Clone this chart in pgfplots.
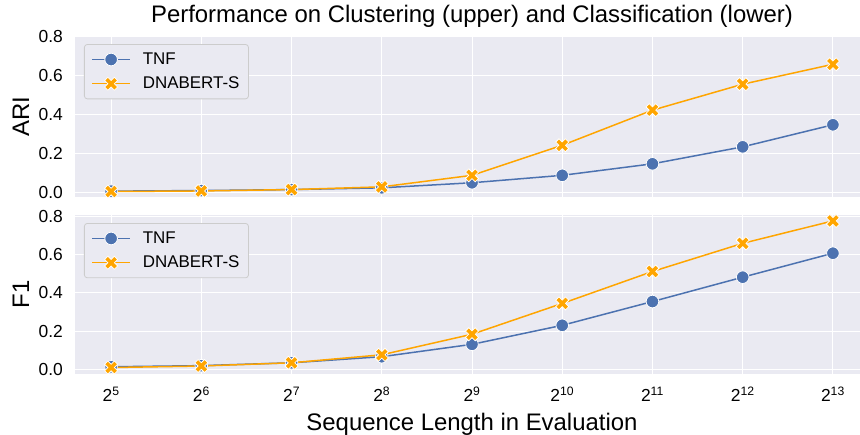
\documentclass[border=0pt]{standalone}
\usepackage{fontspec}
\setmainfont{Liberation Sans}
\usepackage{pgfplots}
\pgfplotsset{compat=1.18}
\definecolor{sbbg}{HTML}{EAEAF2}
\definecolor{tnf}{HTML}{4C72B0}
\definecolor{dna}{HTML}{FFA500}
\definecolor{lgedge}{HTML}{CCCCCC}

\pgfdeclareplotmark{filledX}{%
  \pgftransformrotate{45}%
  \pgfpathmoveto{\pgfpoint{0.34\pgfplotmarksize}{\pgfplotmarksize}}%
  \pgfpathlineto{\pgfpoint{0.34\pgfplotmarksize}{0.34\pgfplotmarksize}}%
  \pgfpathlineto{\pgfpoint{\pgfplotmarksize}{0.34\pgfplotmarksize}}%
  \pgfpathlineto{\pgfpoint{\pgfplotmarksize}{-0.34\pgfplotmarksize}}%
  \pgfpathlineto{\pgfpoint{0.34\pgfplotmarksize}{-0.34\pgfplotmarksize}}%
  \pgfpathlineto{\pgfpoint{0.34\pgfplotmarksize}{-\pgfplotmarksize}}%
  \pgfpathlineto{\pgfpoint{-0.34\pgfplotmarksize}{-\pgfplotmarksize}}%
  \pgfpathlineto{\pgfpoint{-0.34\pgfplotmarksize}{-0.34\pgfplotmarksize}}%
  \pgfpathlineto{\pgfpoint{-\pgfplotmarksize}{-0.34\pgfplotmarksize}}%
  \pgfpathlineto{\pgfpoint{-\pgfplotmarksize}{0.34\pgfplotmarksize}}%
  \pgfpathlineto{\pgfpoint{-0.34\pgfplotmarksize}{0.34\pgfplotmarksize}}%
  \pgfpathlineto{\pgfpoint{-0.34\pgfplotmarksize}{\pgfplotmarksize}}%
  \pgfpathclose
  \pgfusepathqfillstroke
}

\pgfplotsset{
  sbaxis/.style={
    scale only axis, width=794bp,
    xmin=4.6, xmax=13.4,
    axis background/.style={fill=sbbg},
    axis line style={draw=none},
    major tick length=0pt,
    grid=major, grid style={white, line width=1bp},
    xtick={5,6,7,8,9,10,11,12,13},
    ytick={0,0.2,0.4,0.6,0.8},
    /pgf/number format/assume math mode=true,
    yticklabel style={font=\fontsize{17.5}{20}\selectfont, inner sep=0pt, xshift=-12bp,
      /pgf/number format/fixed, /pgf/number format/fixed zerofill, /pgf/number format/precision=1},
    xticklabel style={font=\fontsize{17.5}{20}\selectfont, inner sep=0pt, anchor=north, yshift=-13bp},
    every axis y label/.style={at={(axis description cs:-0.068,0.5)}, rotate=90, anchor=center,
      font=\fontsize{24}{28}\selectfont},
    legend cell align=left,
    legend style={at={(axis description cs:0.0113,0.95)}, anchor=north west,
      font=\fontsize{17}{20}\selectfont, draw=lgedge, fill=sbbg, rounded corners=3bp,
      line width=0.8bp, inner xsep=7bp, inner ysep=6.5bp, row sep=7bp,
      /tikz/every odd column/.append style={column sep=10bp}},
    legend image code/.code={\draw[mark repeat=2,mark phase=2] plot coordinates {(0bp,0bp)(19bp,0bp)(38bp,0bp)};},
  },
  tnfplot/.style={color=tnf, line width=1.5bp, mark=*, mark size=6.3bp,
    mark options={fill=tnf, draw=white, line width=0.75bp}},
  dnaplot/.style={color=dna, line width=1.5bp, mark=filledX, mark size=6.9bp,
    mark options={fill=dna, draw=white, line width=0.75bp}},
}

\begin{document}
\begin{tikzpicture}
\begin{axis}[sbaxis,
  at={(75bp,-36bp)}, anchor=north west, height=161bp,
  ymin=-0.025, ymax=0.8,
  xticklabels={},
  ylabel={ARI},
  title={Performance on Clustering (upper) and Classification (lower)},
  title style={at={(axis description cs:0.5,1)}, anchor=base, yshift=8bp, font=\fontsize{24}{28}\selectfont},
]
\addplot[tnfplot] coordinates {(5,0.005)(6,0.008)(7,0.013)(8,0.022)(9,0.048)(10,0.086)(11,0.145)(12,0.232)(13,0.345)};
\addlegendentry{TNF}
\addplot[dnaplot] coordinates {(5,0.003)(6,0.006)(7,0.013)(8,0.027)(9,0.086)(10,0.240)(11,0.420)(12,0.553)(13,0.655)};
\addlegendentry{DNABERT-S}
\end{axis}
\begin{axis}[sbaxis,
  at={(75bp,-215bp)}, anchor=north west, height=159bp,
  ymin=-0.026, ymax=0.81,
  xticklabels={2\textsuperscript{5},2\textsuperscript{6},2\textsuperscript{7},2\textsuperscript{8},2\textsuperscript{9},2\textsuperscript{10},2\textsuperscript{11},2\textsuperscript{12},2\textsuperscript{13}},
  ylabel={F1},
  xlabel={Sequence Length in Evaluation},
  xlabel style={at={(axis description cs:0.5,0)}, anchor=base, yshift=-56bp, font=\fontsize{24}{28}\selectfont},
  legend style={at={(axis description cs:0.0113,0.9497)}},
]
\addplot[tnfplot] coordinates {(5,0.012)(6,0.018)(7,0.033)(8,0.065)(9,0.130)(10,0.230)(11,0.355)(12,0.483)(13,0.609)};
\addlegendentry{TNF}
\addplot[dnaplot] coordinates {(5,0.008)(6,0.016)(7,0.033)(8,0.075)(9,0.183)(10,0.345)(11,0.513)(12,0.661)(13,0.779)};
\addlegendentry{DNABERT-S}
\end{axis}
\pgfresetboundingbox
\useasboundingbox (0bp,0bp) rectangle (860bp,-435bp);
\end{tikzpicture}
\end{document}
